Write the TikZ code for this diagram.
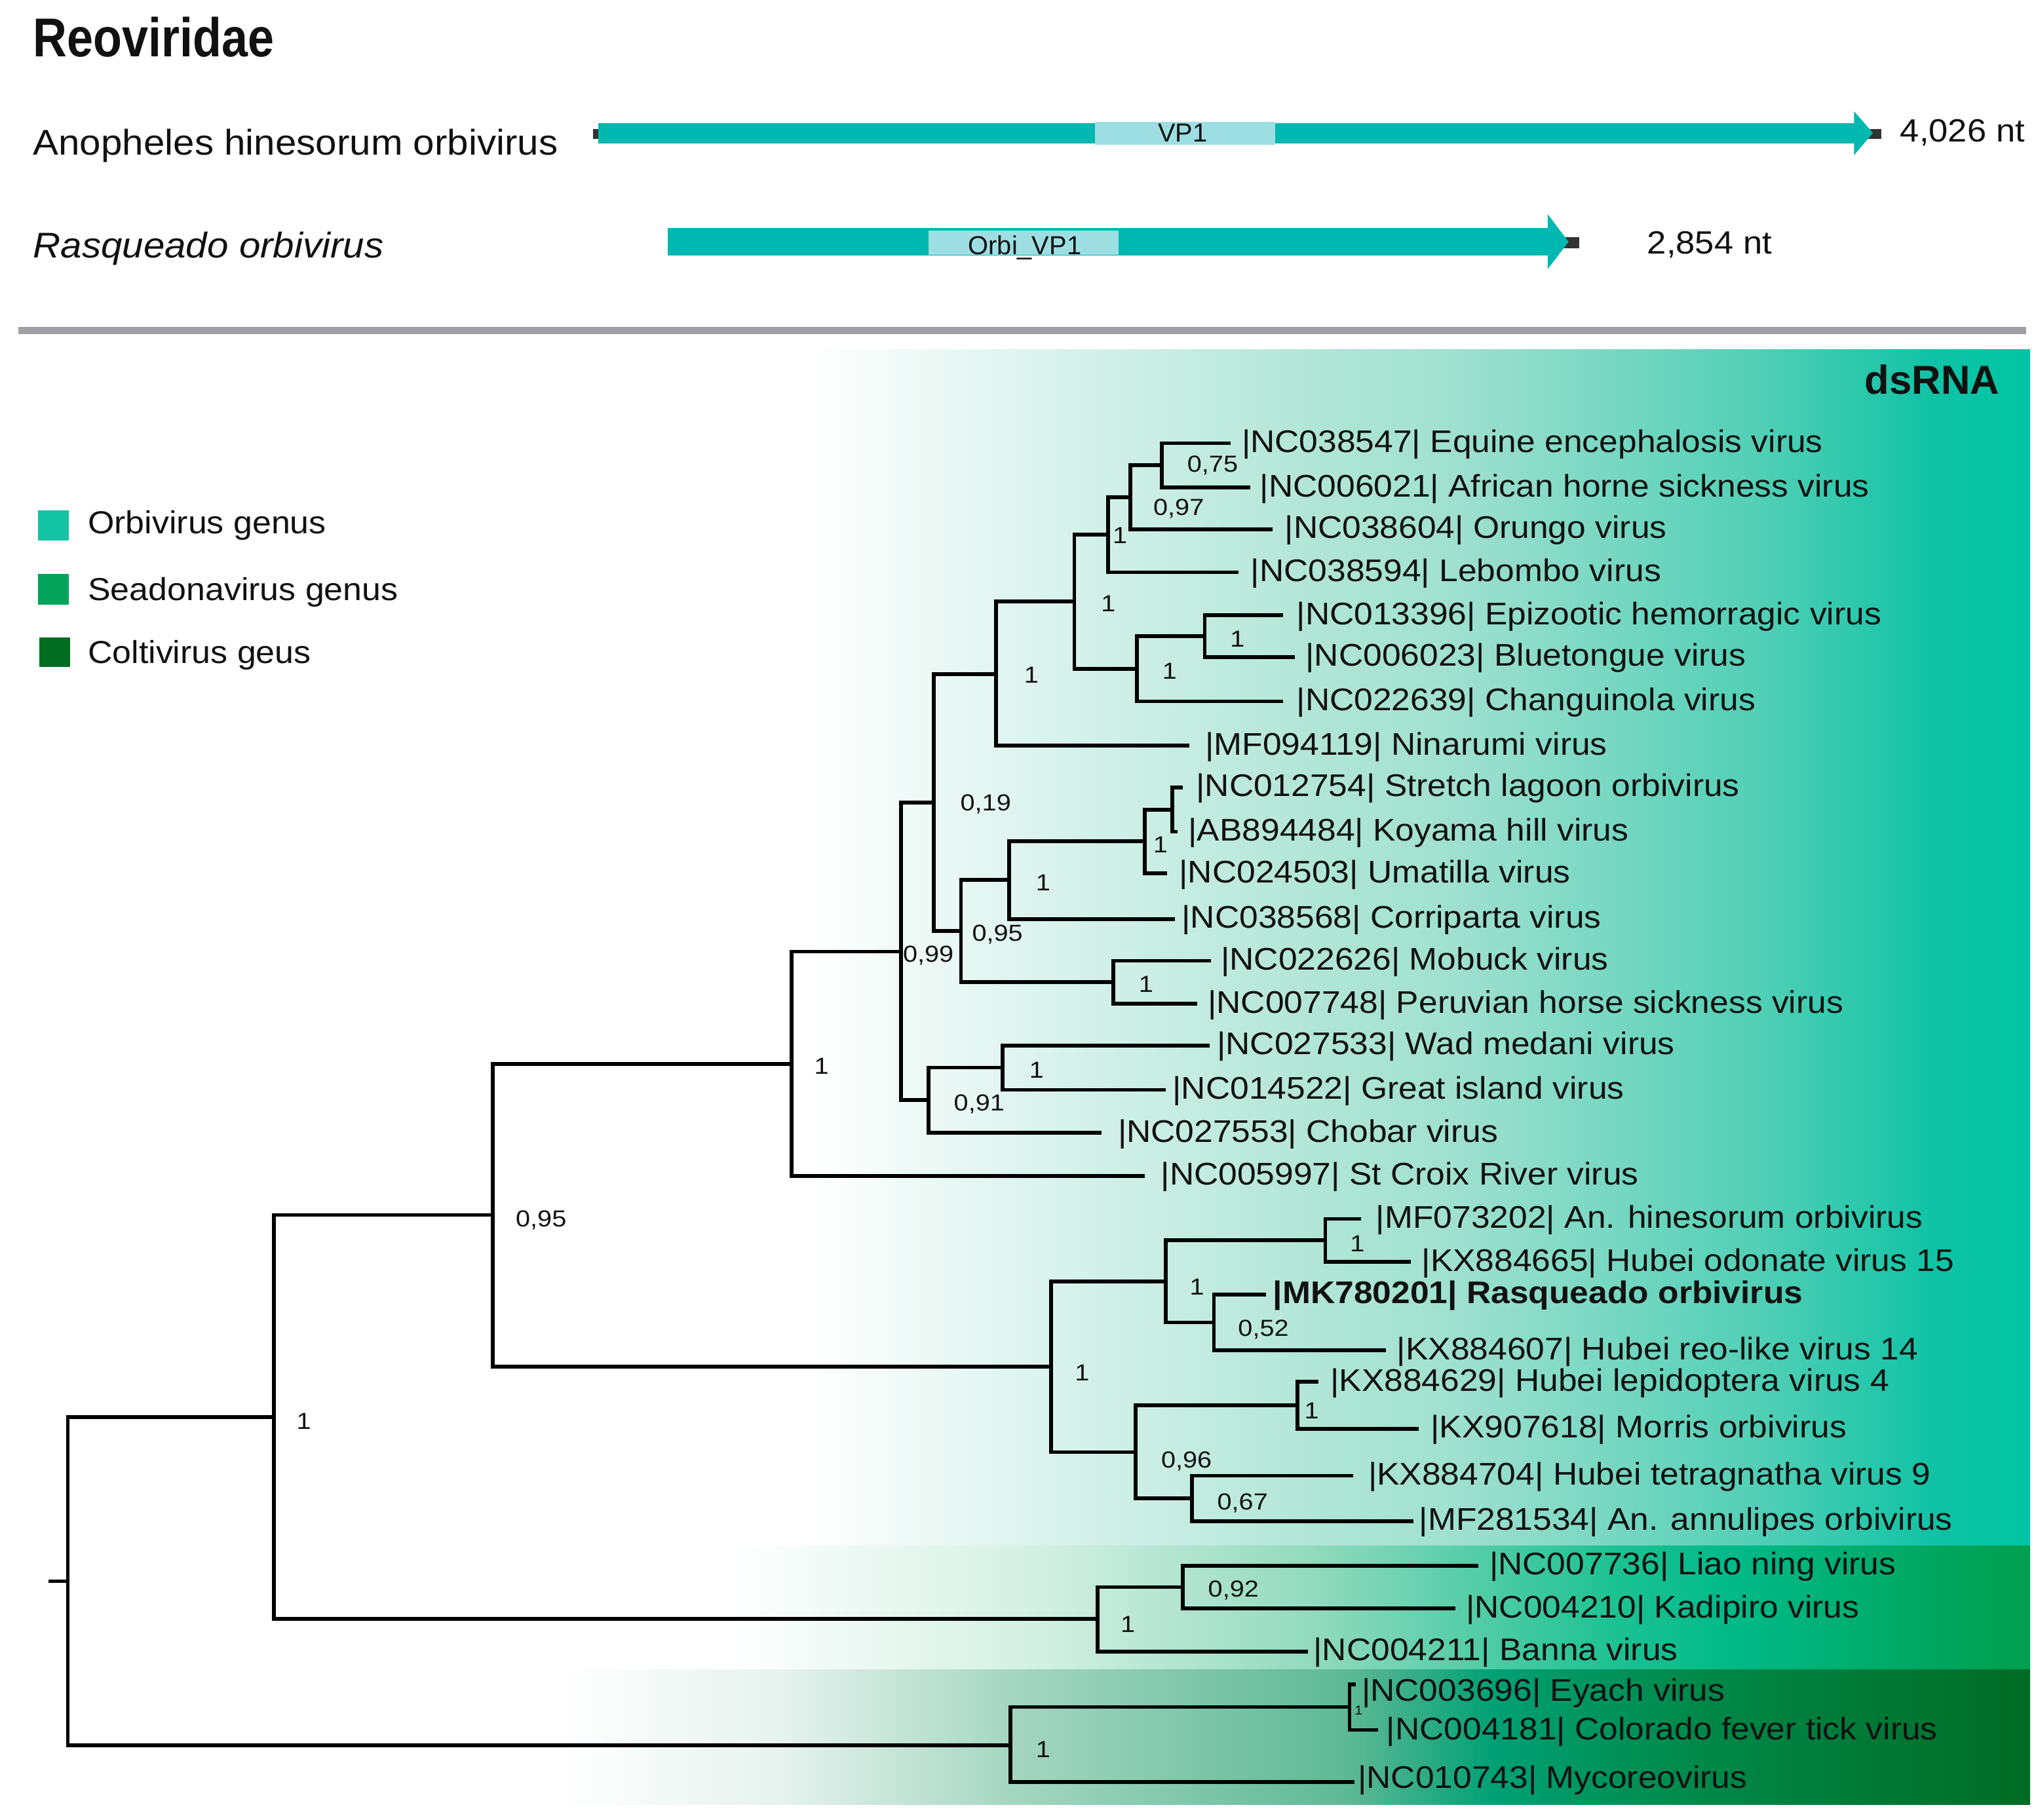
\documentclass[tikz,border=0pt]{standalone}
\usepackage{fontspec}
\setmainfont{Liberation Sans}
\newfontfamily\fTree{Liberation Sans}[FakeStretch=1.08]
\newfontfamily\fBoot{Liberation Sans}[FakeStretch=1.12]
\newfontfamily\fTop{Liberation Sans}[FakeStretch=1.07]
\newfontfamily\fTitle{Liberation Sans}[FakeStretch=0.86]
\definecolor{bar}{HTML}{00B8B0}
\definecolor{barlight}{HTML}{9DDEE3}
\definecolor{sepgray}{HTML}{A0A0A4}
\definecolor{txt}{HTML}{111111}
\definecolor{legO}{HTML}{14C3A3}
\definecolor{legS}{HTML}{02A35A}
\definecolor{legC}{HTML}{006D22}
\definecolor{darkend}{HTML}{333333}
% band stops
\definecolor{ua}{HTML}{FFFFFF}\definecolor{ub}{HTML}{E4F6F1}\definecolor{uc}{HTML}{B2E6D7}
\definecolor{ud}{HTML}{9FE0CF}\definecolor{ue}{HTML}{50CFB5}\definecolor{uf}{HTML}{10C3A5}
\definecolor{ug}{HTML}{00C4A4}
\definecolor{sa}{HTML}{FFFFFF}\definecolor{sb}{HTML}{D2EFE3}\definecolor{sc}{HTML}{93DABF}
\definecolor{sd}{HTML}{1EC293}\definecolor{se}{HTML}{00BA88}\definecolor{sf}{HTML}{009E4E}
\definecolor{ca}{HTML}{FFFFFF}\definecolor{cb}{HTML}{E6F2EE}\definecolor{cc}{HTML}{A5D6C2}
\definecolor{cd}{HTML}{5DB896}\definecolor{ce}{HTML}{00A074}\definecolor{cf}{HTML}{00894A}
\definecolor{cg}{HTML}{006B24}
\newcommand\bandseg[6]{\shade[left color=#5,right color=#6] (#1,#3) rectangle (#2,#4);}
\begin{document}
\begin{tikzpicture}[x=0.5pt,y=-0.5pt,
  br/.style={line width=1.45pt, line join=miter, draw=black},
  tl/.style={anchor=base west, inner sep=0, font=\fontsize{12}{14}\fTree, text=txt},
  bs/.style={inner sep=0, font=\fontsize{8.9}{10}\fBoot, text=txt},
  toptxt/.style={inner sep=0, text=txt},
  legtxt/.style={anchor=base west, inner sep=0, font=\fontsize{12.2}{14}\fTop, text=txt}]
\useasboundingbox (0,0) rectangle (1560,1396);

% ---------- top panel ----------
\node[toptxt, anchor=base west, font=\fontsize{21}{24}\fTitle\bfseries] (title) at (25,43.7) {Reoviridae};
\node[toptxt, anchor=base west, font=\fontsize{13.7}{16}\fTop] (g1name) at (25,119) {Anopheles hinesorum orbivirus};
\node[toptxt, anchor=base west, font=\fontsize{13.7}{16}\fTop\itshape] (g2name) at (25,197.6) {Rasqueado orbivirus};

% gene 1
\fill[darkend] (455,99) rectangle (460,106.5);
\fill[darkend] (1430,98.8) rectangle (1443,106.4);
\fill[bar] (459,94.5) rectangle (1423,110);
\fill[bar] (1422,85.4) -- (1436.5,102) -- (1422,119) -- cycle;
\fill[barlight] (840,93.5) rectangle (978,111);
\node[toptxt, anchor=base, font=\fontsize{10.6}{12}] (vp1) at (907,109) {VP1};
\node[toptxt, anchor=base west, font=\fontsize{12.35}{14}\fTop] (nt1) at (1457,109) {4,026 nt};

% gene 2
\fill[darkend] (1199,181.7) rectangle (1211,190.5);
\fill[bar] (512,175) rectangle (1188,196);
\fill[bar] (1187,164.2) -- (1203,185.5) -- (1187,206.5) -- cycle;
\fill[barlight] (712,176.7) rectangle (858,195.6);
\node[toptxt, anchor=base, font=\fontsize{11.4}{13}] (orbivp1) at (786,195.5) {Orbi\_VP1};
\node[toptxt, anchor=base west, font=\fontsize{12.35}{14}\fTop] (nt2) at (1263,195) {2,854 nt};

% separator
\draw[sepgray, line width=2.6pt] (14,253.5) -- (1554,253.5);

% ---------- background bands ----------
\bandseg{620}{755}{268}{1187}{ua}{ub}
\bandseg{754}{1006}{268}{1187}{ub}{uc}
\bandseg{1005}{1119}{268}{1187}{uc}{ud}
\bandseg{1118}{1353}{268}{1187}{ud}{ue}
\bandseg{1352}{1483}{268}{1187}{ue}{uf}
\bandseg{1482}{1557}{268}{1187}{uf}{ug}

\bandseg{560}{801}{1186}{1282}{sa}{sb}
\bandseg{800}{1006}{1186}{1282}{sb}{sc}
\bandseg{1005}{1236}{1186}{1282}{sc}{sd}
\bandseg{1235}{1329}{1186}{1282}{sd}{se}
\bandseg{1328}{1557}{1186}{1282}{se}{sf}

\bandseg{430}{601}{1281}{1384.5}{ca}{cb}
\bandseg{600}{776}{1281}{1384.5}{cb}{cc}
\bandseg{775}{1036}{1281}{1384.5}{cc}{cd}
\bandseg{1035}{1147}{1281}{1384.5}{cd}{ce}
\bandseg{1146}{1297}{1281}{1384.5}{ce}{cf}
\bandseg{1296}{1557}{1281}{1384.5}{cf}{cg}

\node[toptxt, anchor=base east, font=\fontsize{15.5}{18}\bfseries] (ds) at (1534,302.5) {dsRNA};

% ---------- legend ----------
\fill[legO] (29,391.6) rectangle (53,414.6);
\fill[legS] (29,440.5) rectangle (53,464);
\fill[legC] (30,488.8) rectangle (54,511.7);
\node[legtxt] (lo) at (67,409.6) {Orbivirus genus};
\node[legtxt] (ls) at (67,460.6) {Seadonavirus genus};
\node[legtxt] (lc) at (67,509) {Coltivirus geus};

% ---------- tree coordinates ----------
\coordinate (t1) at (944,340);
\coordinate (t2) at (959,374);
\coordinate (t3) at (976,406);
\coordinate (t4) at (950,439);
\coordinate (t5) at (984,472);
\coordinate (t6) at (993,504);
\coordinate (t7) at (984,538);
\coordinate (t8) at (912,572);
\coordinate (t9) at (907,604);
\coordinate (t10) at (903,638);
\coordinate (t11) at (895,670);
\coordinate (t12) at (901,705);
\coordinate (t13) at (929,737);
\coordinate (t14) at (918,770);
\coordinate (t15) at (928,802);
\coordinate (t16) at (894,836);
\coordinate (t17) at (845,869);
\coordinate (t18) at (878,902);
\coordinate (t19) at (1044,935);
\coordinate (t20) at (1082,968);
\coordinate (t21) at (971,993);
\coordinate (t22) at (1063,1036);
\coordinate (t23) at (1011,1060);
\coordinate (t24) at (1088,1096);
\coordinate (t25) at (1038,1132);
\coordinate (t26) at (1084,1167);
\coordinate (t27) at (1134,1201);
\coordinate (t28) at (1116,1234);
\coordinate (t29) at (1003,1267);
\coordinate (t30) at (1040,1292);
\coordinate (t31) at (1057,1327);
\coordinate (t32) at (1039,1367);

\coordinate (nA) at (891,357);
\coordinate (nB) at (867,381.5);
\coordinate (nC) at (850,410);
\coordinate (nD) at (924,488);
\coordinate (nE) at (872,513);
\coordinate (nF) at (824,461.5);
\coordinate (nG) at (764,517);
\coordinate (nH) at (899,621);
\coordinate (nI) at (878,645.5);
\coordinate (nJ) at (774,675);
\coordinate (nK) at (854,753.5);
\coordinate (nL) at (737,714);
\coordinate (nM) at (716,615.5);
\coordinate (nN) at (769,819);
\coordinate (nO) at (712,844);
\coordinate (nP) at (691,730);
\coordinate (nQ) at (607,816);
\coordinate (nS) at (1016.5,951.5);
\coordinate (nT) at (931,1014.5);
\coordinate (nU) at (894,983);
\coordinate (nV) at (995,1078);
\coordinate (nW) at (914,1149.5);
\coordinate (nX) at (871,1114);
\coordinate (nY) at (806,1048.5);
\coordinate (nR) at (378,932);
\coordinate (nZ) at (907,1217.5);
\coordinate (nAA) at (842,1242);
\coordinate (nBB) at (210,1087);
\coordinate (nCC) at (1035,1309.5);
\coordinate (nDD) at (775,1339);
\coordinate (nroot) at (52,1213);
\coordinate (stub) at (37,1213);

% ---------- branches ----------
\draw[br] (t1) -| (nA) |- (t2);
\draw[br] (nA) -| (nB) |- (t3);
\draw[br] (nB) -| (nC) |- (t4);
\draw[br] (t5) -| (nD) |- (t6);
\draw[br] (nD) -| (nE) |- (t7);
\draw[br] (nC) -| (nF) |- (nE);
\draw[br] (nF) -| (nG) |- (t8);
\draw[br] (t9) -| (nH) |- (t10);
\draw[br] (nH) -| (nI) |- (t11);
\draw[br] (nI) -| (nJ) |- (t12);
\draw[br] (t13) -| (nK) |- (t14);
\draw[br] (nJ) -| (nL) |- (nK);
\draw[br] (nG) -| (nM) |- (nL);
\draw[br] (t15) -| (nN) |- (t16);
\draw[br] (nN) -| (nO) |- (t17);
\draw[br] (nM) -| (nP) |- (nO);
\draw[br] (nP) -| (nQ) |- (t18);
\draw[br] (t19) -| (nS) |- (t20);
\draw[br] (t21) -| (nT) |- (t22);
\draw[br] (nS) -| (nU) |- (nT);
\draw[br] (t23) -| (nV) |- (t24);
\draw[br] (t25) -| (nW) |- (t26);
\draw[br] (nV) -| (nX) |- (nW);
\draw[br] (nU) -| (nY) |- (nX);
\draw[br] (nQ) -| (nR) |- (nY);
\draw[br] (t27) -| (nZ) |- (t28);
\draw[br] (nZ) -| (nAA) |- (t29);
\draw[br] (nR) -| (nBB) |- (nAA);
\draw[br] (t30) -| (nCC) |- (t31);
\draw[br] (nCC) -| (nDD) |- (t32);
\draw[br] (nBB) -| (nroot) |- (nDD);
\draw[br] (nroot) -- (stub);

% ---------- tip labels ----------
\node[tl] (l1) at (952,347) {|NC038547| Equine encephalosis virus};
\node[tl] (l2) at (966,381) {|NC006021| African horne sickness virus};
\node[tl] (l3) at (985,413) {|NC038604| Orungo virus};
\node[tl] (l4) at (959,446) {|NC038594| Lebombo virus};
\node[tl] (l5) at (994,479) {|NC013396| Epizootic hemorragic virus};
\node[tl] (l6) at (1001,511) {|NC006023| Bluetongue virus};
\node[tl] (l7) at (994,545) {|NC022639| Changuinola virus};
\node[tl] (l8) at (924,579) {|MF094119| Ninarumi virus};
\node[tl] (l9) at (917,611) {|NC012754| Stretch lagoon orbivirus};
\node[tl] (l10) at (911,645) {|AB894484| Koyama hill virus};
\node[tl] (l11) at (904,677) {|NC024503| Umatilla virus};
\node[tl] (l12) at (906,712) {|NC038568| Corriparta virus};
\node[tl] (l13) at (936,744) {|NC022626| Mobuck virus};
\node[tl] (l14) at (926,777) {|NC007748| Peruvian horse sickness virus};
\node[tl] (l15) at (933,809) {|NC027533| Wad medani virus};
\node[tl] (l16) at (899,843) {|NC014522| Great island virus};
\node[tl] (l17) at (857,876) {|NC027553| Chobar virus};
\node[tl] (l18) at (890,909) {|NC005997| St Croix River virus};
\node[tl] (l19) at (1055,942) {|MF073202| An. hinesorum orbivirus};
\node[tl] (l20) at (1090,975) {|KX884665| Hubei odonate virus 15};
\node[tl, font=\fontsize{12}{14}\fTree\bfseries] (l21) at (976,1000) {|MK780201| Rasqueado orbivirus};
\node[tl] (l22) at (1071,1043) {|KX884607| Hubei reo-like virus 14};
\node[tl] (l23) at (1020,1067) {|KX884629| Hubei lepidoptera virus 4};
\node[tl] (l24) at (1097,1103) {|KX907618| Morris orbivirus};
\node[tl] (l25) at (1049,1139) {|KX884704| Hubei tetragnatha virus 9};
\node[tl] (l26) at (1088,1174) {|MF281534| An. annulipes orbivirus};
\node[tl] (l27) at (1142,1208) {|NC007736| Liao ning virus};
\node[tl] (l28) at (1124,1241) {|NC004210| Kadipiro virus};
\node[tl] (l29) at (1007,1274) {|NC004211| Banna virus};
\node[tl] (l30) at (1044,1305) {|NC003696| Eyach virus};
\node[tl] (l31) at (1063,1334.5) {|NC004181| Colorado fever tick virus};
\node[tl] (l32) at (1041,1372) {|NC010743| Mycoreovirus};

% ---------- support values ----------
\node[bs] (bA) at (930,357) {0,75};
\node[bs] (bB) at (904,390) {0,97};
\node[bs] (bC) at (859,411) {1};
\node[bs] (bF) at (850,463) {1};
\node[bs] (bD) at (949,490) {1};
\node[bs] (bE) at (897,515) {1};
\node[bs] (bG) at (791,518) {1};
\node[bs] (bM) at (756,617) {0,19};
\node[bs] (bI) at (890,648) {1};
\node[bs] (bJ) at (800,677) {1};
\node[bs] (bL) at (765,717) {0,95};
\node[bs] (bP) at (712,733) {0,99};
\node[bs] (bK) at (879,755) {1};
\node[bs] (bN) at (795,821) {1};
\node[bs] (bO) at (751,847) {0,91};
\node[bs] (bQ) at (630,818) {1};
\node[bs] (bR) at (415,936) {0,95};
\node[bs] (bS) at (1041,954) {1};
\node[bs] (bU) at (918,987) {1};
\node[bs] (bT) at (969,1020) {0,52};
\node[bs] (bY) at (830,1053) {1};
\node[bs] (bV) at (1006,1082) {1};
\node[bs] (bX) at (910,1121) {0,96};
\node[bs] (bW) at (953,1153) {0,67};
\node[bs] (bZ) at (946,1220) {0,92};
\node[bs] (bAA) at (865,1246) {1};
\node[bs] (bBB) at (233,1090) {1};
\node[bs, font=\fontsize{5}{6}\fBoot] (bCC) at (1042,1312) {1};
\node[bs] (bDD) at (800,1342) {1};
\end{tikzpicture}
\end{document}
